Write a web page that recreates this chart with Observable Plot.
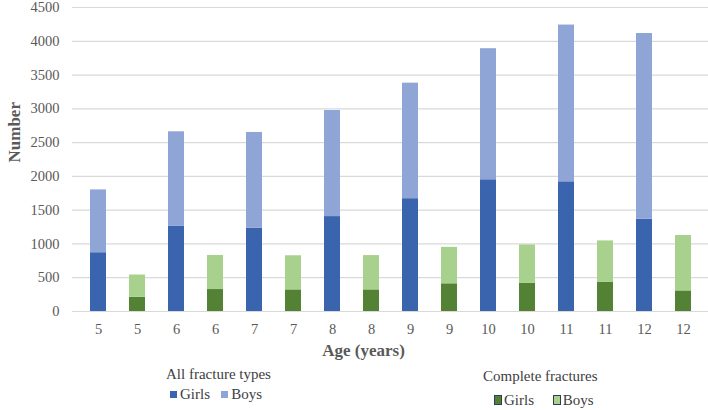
<!DOCTYPE html>
<html>
<head>
<meta charset="utf-8">
<script src="https://cdn.jsdelivr.net/npm/d3@7"></script>
<script src="https://cdn.jsdelivr.net/npm/@observablehq/plot@0.6"></script>
<style>
  body { margin: 0; background: #fff; }
  #wrap { position: relative; width: 708px; height: 410px; font-family: 'Liberation Serif', serif; }
  #wrap svg, #wrap svg text { font-family: 'Liberation Serif', serif; }
  .lg { position: absolute; font-size: 15px; color: #404040; white-space: nowrap; line-height: 1; font-family: 'Liberation Serif', serif; }
  .sw { display: inline-block; width: 7px; height: 7px; margin-right: 3px; vertical-align: 1px; }
  .swb { display: inline-block; width: 6px; height: 8px; margin-right: 2px; vertical-align: 0px; border: 1px solid #2f3f4f; }
</style>
</head>
<body>
<div id="wrap"></div>
<script>
const ages = [5, 6, 7, 8, 9, 10, 11, 12];
const allGirls = [870, 1260, 1235, 1405, 1670, 1950, 1920, 1365];
const allBoys = [930, 1400, 1415, 1570, 1710, 1940, 2320, 2750];
const completeGirls = [210, 325, 320, 320, 410, 420, 435, 305];
const completeBoys = [330, 505, 505, 508, 540, 565, 610, 820];
const yTicks = [0, 500, 1000, 1500, 2000, 2500, 3000, 3500, 4000, 4500];

const colors = {
  "All-Girls": "#3b64ae",
  "All-Boys": "#8fa5d6",
  "Complete-Girls": "#548235",
  "Complete-Boys": "#a9d18e"
};

const rows = [];
const slotAge = [];
ages.forEach((a, i) => {
  const sAll = 2 * i, sComp = 2 * i + 1;
  slotAge[sAll] = a; slotAge[sComp] = a;
  rows.push({slot: sAll, key: "All-Girls", order: 0, value: allGirls[i]});
  rows.push({slot: sAll, key: "All-Boys", order: 1, value: allBoys[i]});
  rows.push({slot: sComp, key: "Complete-Girls", order: 0, value: completeGirls[i]});
  rows.push({slot: sComp, key: "Complete-Boys", order: 1, value: completeBoys[i]});
});
const slots = d3.range(slotAge.length);

const chart = Plot.plot({
  width: 708,
  height: 367,
  marginTop: 7,
  marginBottom: 56,
  marginLeft: 72,
  marginRight: 0,
  style: {fontFamily: "'Liberation Serif', serif", fontSize: "14.5px", color: "#595959", background: "#fff"},
  x: {type: "band", domain: slots, paddingInner: 0.6, paddingOuter: 0.29, axis: null},
  y: {domain: [0, 4500], axis: null},
  color: {domain: Object.keys(colors), range: Object.values(colors)},
  marks: [
    Plot.ruleY(yTicks, {stroke: "#d9d9d9", strokeWidth: 1.2}),
    Plot.barY(rows, {x: "slot", y: "value", fill: "key", order: "order"}),
    Plot.axisY(yTicks, {tickSize: 0, tickPadding: 13, tickFormat: d => String(d), fill: "#595959", fontSize: 14.5, label: null}),
    Plot.axisX(slots, {tickSize: 0, tickPadding: 12, tickFormat: d => slotAge[d], fill: "#595959", fontSize: 14.5, label: null}),
    Plot.text(["Age (years)"], {frameAnchor: "bottom", dx: -27, dy: 44, fontWeight: "bold", fontSize: 17, fill: "#595959"}),
    Plot.text(["Number"], {frameAnchor: "left", rotate: -90, dx: -58, dy: 3, fontWeight: "bold", fontSize: 17, fill: "#595959"})
  ]
});

const wrap = document.getElementById("wrap");
wrap.appendChild(chart);

function addLegend(html, left, top) {
  const d = document.createElement("div");
  d.className = "lg";
  d.style.left = left + "px";
  d.style.top = top + "px";
  d.innerHTML = html;
  wrap.appendChild(d);
}
addLegend("All fracture types", 166, 367);
addLegend(`<span class="sw" style="background:${colors["All-Girls"]}"></span>Girls&nbsp;&nbsp;&nbsp;<span class="sw" style="background:${colors["All-Boys"]}"></span>Boys`, 170, 387);
addLegend("Complete fractures", 483, 369);
addLegend(`<span class="swb" style="background:${colors["Complete-Girls"]}"></span>Girls&nbsp;&nbsp;&nbsp;&nbsp;&nbsp;<span class="swb" style="background:${colors["Complete-Boys"]}"></span>Boys`, 494, 393);
</script>
</body>
</html>
